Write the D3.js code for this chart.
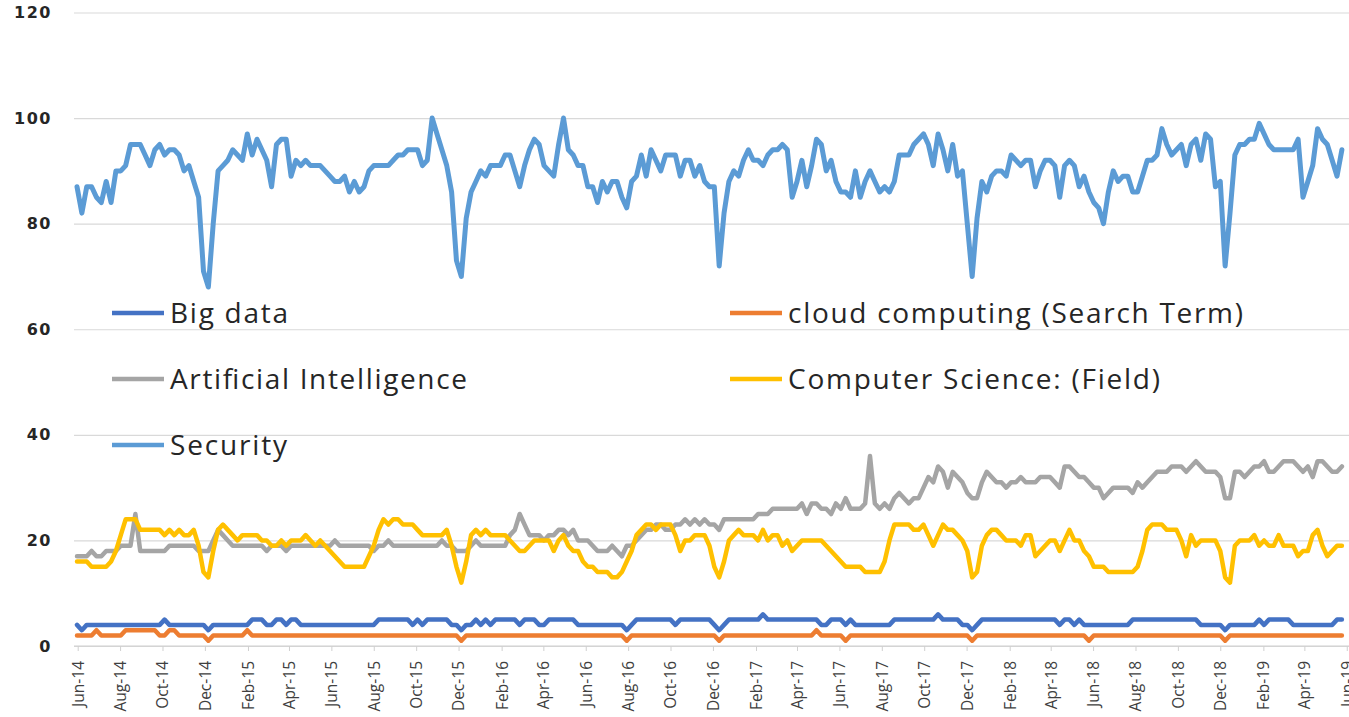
<!DOCTYPE html>
<html>
<head>
<meta charset="utf-8">
<script src="https://cdn.jsdelivr.net/npm/d3@7"></script>
<style>
body { margin: 0; background: #fff; }
svg { display: block; }
</style>
</head>
<body>
<div id="chart"></div>
<script>
// weekly google trends index, first week and x-axis ticks
const firstWeek = new Date(2014, 4, 31);
const tickDates = d3.timeMonth.range(new Date(2014, 5, 1), new Date(2019, 5, 2), 2);
const yTicks = [0, 20, 40, 60, 80, 100, 120];

const seriesNames = ['Big data', 'cloud computing (Search Term)', 'Artificial Intelligence', 'Computer Science: (Field)', 'Security'];
const seriesColors = ['#4472c4', '#ed7d31', '#a5a5a5', '#ffc000', '#5b9bd5'];

const bigData = [
	4,3,4,4,4,4,4,4,4,4, 4,4,4,4,4,4,4,4,5,4, 4,4,4,4,4,4,4,3,4,4, 4,4,4,4,4,4,5,5,5,4,
	4,5,5,4,5,5,4,4,4,4, 4,4,4,4,4,4,4,4,4,4, 4,4,5,5,5,5,5,5,5,4, 5,4,5,5,5,5,5,4,4,3,
	4,4,5,4,5,4,5,5,5,5, 5,4,5,5,5,4,4,5,5,5, 5,5,5,4,4,4,4,4,4,4, 4,4,4,3,4,5,5,5,5,5,
	5,5,5,4,5,5,5,5,5,5, 5,4,3,4,5,5,5,5,5,5, 5,6,5,5,5,5,5,5,5,5, 5,5,5,4,4,5,5,5,4,5,
	4,4,4,4,4,4,4,4,5,5, 5,5,5,5,5,5,5,6,5,5, 5,5,4,4,3,4,5,5,5,5, 5,5,5,5,5,5,5,5,5,5,
	5,5,4,5,5,4,5,4,4,4, 4,4,4,4,4,4,4,5,5,5, 5,5,5,5,5,5,5,5,5,5, 5,4,4,4,4,4,3,4,4,4,
	4,4,4,5,4,5,5,5,5,5, 4,4,4,4,4,4,4,4,4,5, 5
];

const cloudComputing = [
	2,2,2,2,3,2,2,2,2,2, 3,3,3,3,3,3,3,2,2,3, 3,2,2,2,2,2,2,1,2,2, 2,2,2,2,2,3,2,2,2,2,
	2,2,2,2,2,2,2,2,2,2, 2,2,2,2,2,2,2,2,2,2, 2,2,2,2,2,2,2,2,2,2, 2,2,2,2,2,2,2,2,2,1,
	2,2,2,2,2,2,2,2,2,2, 2,2,2,2,2,2,2,2,2,2, 2,2,2,2,2,2,2,2,2,2, 2,2,2,1,2,2,2,2,2,2,
	2,2,2,2,2,2,2,2,2,2, 2,2,1,2,2,2,2,2,2,2, 2,2,2,2,2,2,2,2,2,2, 2,2,3,2,2,2,2,2,1,2,
	2,2,2,2,2,2,2,2,2,2, 2,2,2,2,2,2,2,2,2,2, 2,2,2,2,1,2,2,2,2,2, 2,2,2,2,2,2,2,2,2,2,
	2,2,2,2,2,2,2,2,1,2, 2,2,2,2,2,2,2,2,2,2, 2,2,2,2,2,2,2,2,2,2, 2,2,2,2,2,2,1,2,2,2,
	2,2,2,2,2,2,2,2,2,2, 2,2,2,2,2,2,2,2,2,2, 2
];

const artificialIntelligence = [
	17,17,17,18,17,17,18,18,18,19, 19,19,25,18,18,18,18,18,18,19, 19,19,19,19,19,18,18,18,20,22, 21,20,19,19,19,19,19,19,19,18,
	19,19,19,18,19,19,19,19,19,19, 19,19,19,20,19,19,19,19,19,19, 19,18,19,19,20,19,19,19,19,19, 19,19,19,19,19,20,19,19,18,18,
	18,19,20,19,19,19,19,19,19,21, 22,25,23,21,21,21,20,21,21,22, 22,21,22,20,20,20,19,18,18,18, 19,18,17,19,19,20,21,22,22,23,
	23,22,22,23,23,24,23,24,23,24, 23,23,22,24,24,24,24,24,24,24, 25,25,25,26,26,26,26,26,26,27, 25,27,27,26,26,25,27,26,28,26,
	26,26,27,36,27,26,27,26,28,29, 28,27,28,28,30,32,31,34,33,30, 33,32,31,29,28,28,31,33,32,31, 31,30,31,31,32,31,31,31,32,32,
	32,31,30,34,34,33,32,32,31,30, 30,28,29,30,30,30,30,29,31,30, 31,32,33,33,33,34,34,34,33,34, 35,34,33,33,33,32,28,28,33,33,
	32,33,34,34,35,33,33,34,35,35, 35,34,33,34,32,35,35,34,33,33, 34
];

const computerScience = [
	16,16,16,15,15,15,15,16,18,21, 24,24,24,22,22,22,22,22,21,22, 21,22,21,21,22,19,14,13,18,22, 23,22,21,20,21,21,21,21,20,20,
	19,19,20,19,20,20,20,21,20,19, 20,19,18,17,16,15,15,15,15,15, 17,19,22,24,23,24,24,23,23,23, 22,21,21,21,21,21,22,19,15,12,
	16,21,22,21,22,21,21,21,21,20, 19,18,18,19,20,20,20,20,18,20, 21,19,18,18,16,15,15,14,14,14, 13,13,14,16,18,21,22,23,23,22,
	23,23,23,21,18,20,20,21,21,21, 19,15,13,16,20,21,22,21,21,21, 20,22,20,21,21,19,20,18,19,20, 20,20,20,20,19,18,17,16,15,15,
	15,15,14,14,14,14,16,20,23,23, 23,23,22,22,23,21,19,21,23,22, 22,21,20,18,13,14,19,21,22,22, 21,20,20,20,19,21,21,17,18,19,
	20,20,18,20,22,20,20,18,17,15, 15,15,14,14,14,14,14,14,15,18, 22,23,23,23,22,22,22,20,17,21, 19,20,20,20,20,18,13,12,19,20,
	20,20,21,19,20,19,19,21,19,19, 19,17,18,18,21,22,19,17,18,19, 19
];

const security = [
	87,82,87,87,85,84,88,84,90,90, 91,95,95,95,93,91,94,95,93,94, 94,93,90,91,88,85,71,68,80,90, 91,92,94,93,92,97,93,96,94,92,
	87,95,96,96,89,92,91,92,91,91, 91,90,89,88,88,89,86,88,86,87, 90,91,91,91,91,92,93,93,94,94, 94,91,92,100,97,94,91,86,73,70,
	81,86,88,90,89,91,91,91,93,93, 90,87,91,94,96,95,91,90,89,95, 100,94,93,91,91,87,87,84,88,86, 88,88,85,83,88,89,93,89,94,92,
	90,93,93,93,89,92,92,89,91,88, 87,87,72,82,88,90,89,92,94,92, 92,91,93,94,94,95,94,85,88,92, 87,91,96,95,90,92,88,86,86,85,
	90,85,88,90,88,86,87,86,88,93, 93,93,95,96,97,95,91,97,94,90, 95,89,90,80,70,81,88,86,89,90, 90,89,93,92,91,92,92,87,90,92,
	92,91,85,91,92,91,87,89,86,84, 83,80,86,90,88,89,89,86,86,89, 92,92,93,98,95,93,94,95,91,95, 96,92,97,96,87,88,72,82,93,95,
	95,96,96,99,97,95,94,94,94,94, 94,96,85,88,91,98,96,95,92,89, 94
];

const allSeries = [bigData, cloudComputing, artificialIntelligence, computerScience, security];

const width = 1349;
const height = 717;
const plotLeft = 74;
const x0 = 77;
const pxPerDay = 0.695;

const svg = d3.select('#chart')
	.append('svg')
	.attr('width', width)
	.attr('height', height);

const xScale = d3.scaleTime()
	.domain([firstWeek, d3.timeDay.offset(firstWeek, 1830)])
	.range([x0, x0 + 1830 * pxPerDay]);

const yScale = d3.scaleLinear()
	.domain([0, 120])
	.range([646, 12.5]);

// gridlines + y labels
const yAxis = d3.axisLeft(yScale)
	.tickValues(yTicks)
	.tickSize(-(width - plotLeft))
	.tickPadding(22)
	.tickFormat(d3.format('d'));

const gy = svg.append('g')
	.attr('class', 'y-axis')
	.attr('transform', `translate(${plotLeft}, 0)`)
	.call(yAxis);

gy.select('.domain').remove();
gy.selectAll('line')
	.attr('stroke', '#d9d9d9')
	.attr('stroke-width', 1.2);
gy.selectAll('text')
	.style('font-family', '"DejaVu Sans", sans-serif')
	.style('font-weight', 'bold')
	.style('font-size', '16px')
	.style('letter-spacing', '1.5px')
	.attr('fill', '#262626');

// x axis
const xAxis = d3.axisBottom(xScale)
	.tickValues(tickDates)
	.tickSize(5)
	.tickSizeOuter(0)
	.tickFormat(d3.timeFormat('%b-%y'));

const gx = svg.append('g')
	.attr('class', 'x-axis')
	.attr('transform', `translate(0, ${yScale(0)})`)
	.call(xAxis);

gx.select('.domain')
	.attr('d', `M${plotLeft},0H${width}`)
	.attr('stroke', '#d0d0d0')
	.attr('stroke-width', 1.2);
gx.selectAll('line')
	.attr('stroke', '#d0d0d0');
gx.selectAll('text')
	.attr('transform', 'rotate(-90)')
	.attr('x', -15)
	.attr('y', 0)
	.attr('dy', '0.35em')
	.style('text-anchor', 'end')
	.style('font-family', '"Open Sans", sans-serif')
	.style('font-size', '15.5px')
	.attr('fill', '#404040');

// lines
const line = d3.line()
	.x((d, i) => xScale(d3.timeDay.offset(firstWeek, i * 7)))
	.y(d => yScale(d));

allSeries.forEach((s, i) => {
	svg.append('path')
		.datum(s)
		.attr('fill', 'none')
		.attr('stroke', seriesColors[i])
		.attr('stroke-width', i === 4 ? 5 : 4.5)
		.attr('stroke-linejoin', 'round')
		.attr('stroke-linecap', 'round')
		.attr('d', line);
});

// legend, drawn over the plot
const legendCols = [112, 730];
const legendRows = [313, 379, 445];
const legendWidths = [118, 455, 297, 372, 117];

seriesNames.forEach((name, i) => {
	const lx = legendCols[i % 2];
	const ly = legendRows[Math.floor(i / 2)];
	svg.append('line')
		.attr('x1', lx)
		.attr('x2', lx + 52)
		.attr('y1', ly)
		.attr('y2', ly)
		.attr('stroke', seriesColors[i])
		.attr('stroke-width', 4.5);
	svg.append('text')
		.attr('x', lx + 58)
		.attr('y', ly + 9.5)
		.attr('textLength', legendWidths[i])
		.attr('lengthAdjust', 'spacing')
		.style('font-family', '"Open Sans", sans-serif')
		.style('font-size', '28px')
		.attr('fill', '#262626')
		.text(name);
});
</script>
</body>
</html>
